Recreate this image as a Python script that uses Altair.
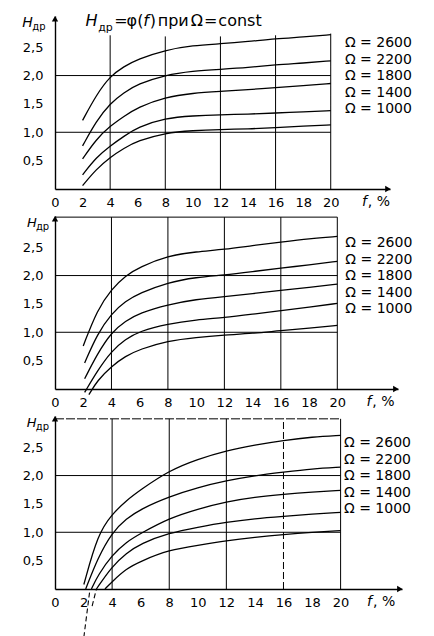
import altair as alt
import pandas as pd

# ---------------- data ----------------
OMEGAS = [2600, 2200, 1800, 1400, 1000]
F_GRID = [3, 4, 5, 6, 8, 10, 12, 14, 16, 18, 20]
X_TICKS = [0, 2, 4, 6, 8, 10, 12, 14, 16, 18, 20]
Y_TICKS = [0.5, 1.0, 1.5, 2.0, 2.5]
GRID_F = [4, 8, 12, 16, 20]
GRID_H = [1.0, 2.0]

# panel 1 (top)
P1_START_F = [2.0, 2.0, 2.0, 2.0, 2.0]
P1_START_H = [1.21, 0.76, 0.53, 0.25, 0.06]
P1_H2600 = [1.66, 1.99, 2.16, 2.29, 2.45, 2.53, 2.56, 2.60, 2.65, 2.68, 2.72]
P1_H2200 = [1.20, 1.51, 1.70, 1.85, 2.01, 2.08, 2.11, 2.14, 2.19, 2.22, 2.26]
P1_H1800 = [0.88, 1.11, 1.28, 1.44, 1.62, 1.69, 1.72, 1.75, 1.79, 1.82, 1.86]
P1_H1400 = [0.56, 0.76, 0.93, 1.09, 1.25, 1.29, 1.31, 1.32, 1.34, 1.36, 1.38]
P1_H1000 = [0.35, 0.56, 0.72, 0.85, 0.99, 1.03, 1.05, 1.06, 1.08, 1.11, 1.13]
P1_GRID_TOP = [2.71, 2.69, 2.69, 2.71, 2.74]

# panel 2 (middle)
P2_START_F = [2.0, 2.1, 2.1, 2.1, 2.4]
P2_START_H = [0.76, 0.46, 0.18, -0.06, -0.10]
P2_H2600 = [1.40, 1.76, 2.00, 2.15, 2.35, 2.42, 2.46, 2.53, 2.59, 2.65, 2.69]
P2_H2200 = [0.97, 1.33, 1.55, 1.69, 1.88, 1.97, 2.01, 2.07, 2.13, 2.19, 2.25]
P2_H1800 = [0.62, 1.00, 1.20, 1.34, 1.49, 1.58, 1.63, 1.68, 1.74, 1.79, 1.85]
P2_H1400 = [0.32, 0.67, 0.88, 1.02, 1.15, 1.22, 1.26, 1.32, 1.38, 1.44, 1.51]
P2_H1000 = [0.15, 0.40, 0.58, 0.70, 0.85, 0.91, 0.95, 0.98, 1.03, 1.07, 1.12]
P2_FRAME = 3.03

# panel 3 (bottom)
P3_START_F = [2.02, 2.15, 2.55, 2.9, 3.5]
P3_START_H = [0.08, 0.0, 0.0, 0.0, 0.0]
P3_H2600 = [0.97, 1.32, 1.56, 1.75, 2.09, 2.29, 2.44, 2.54, 2.62, 2.68, 2.71]
P3_H2200 = [0.55, 1.00, 1.24, 1.41, 1.63, 1.79, 1.91, 2.00, 2.06, 2.12, 2.15]
P3_H1800 = [0.24, 0.60, 0.83, 0.98, 1.25, 1.41, 1.54, 1.62, 1.67, 1.71, 1.74]
P3_H1400 = [None, 0.40, 0.63, 0.80, 0.99, 1.09, 1.18, 1.24, 1.28, 1.32, 1.35]
P3_H1000 = [None, 0.13, 0.36, 0.49, 0.69, 0.77, 0.85, 0.91, 0.96, 1.00, 1.03]
P3_FRAME = 3.0
P3_EXT1_F = [2.45, 2.02]
P3_EXT1_H = [0.0, -0.85]
P3_EXT2_F = [2.9, 2.6]
P3_EXT2_H = [0.0, -0.30]

# ---------------- styling ----------------
FONT = "DejaVu Sans"
XMAX = 24.3
YMAX = 3.05
HEIGHT = 173

X_AXIS = alt.Axis(values=X_TICKS, title=None, ticks=False, tickSize=0, labelPadding=7,
                  grid=False, domainColor="black", domainWidth=1.4, labelFont=FONT,
                  labelFontSize=13, labelColor="black", labelFlush=False, labelOverlap=False)
Y_AXIS = alt.Axis(values=Y_TICKS, title=None, ticks=False, tickSize=0, labelPadding=12,
                  grid=False, domainColor="black", domainWidth=1.4, labelFont=FONT,
                  labelFontSize=13, labelColor="black", labelFlush=False, labelOverlap=False,
                  labelExpr="replace(format(datum.value, '.1f'), '.', ',')")


def curve_frame(start_f, start_h, series):
    rows = []
    for om, f0, h0, hs in zip(OMEGAS, start_f, start_h, series):
        rows.append((om, f0, h0))
        for f, h in zip(F_GRID, hs):
            if h is not None and f > f0:
                rows.append((om, f, h))
    return pd.DataFrame(rows, columns=["omega", "f", "H"])


def panel(width, curves, grid_top=None, frame_top=None, frame_dashed=False, dash16=False,
          legend_f=21.0, fpct_f=22.2, fpct_gap=0.43, hlab_f=-2.0, hsub_f=-1.35,
          hlab_size=13, extensions=None, title=False):
    xs = alt.Scale(domain=[0, XMAX], nice=False, zero=False)
    ys = alt.Scale(domain=[0, YMAX], nice=False, zero=False)

    def X(fld):
        return alt.X(fld, type="quantitative", scale=xs, axis=X_AXIS)

    def Y(fld):
        return alt.Y(fld, type="quantitative", scale=ys, axis=Y_AXIS)

    layers = []
    top = grid_top if grid_top is not None else [frame_top] * len(GRID_F)
    vg = pd.DataFrame({"f": GRID_F, "H": 0.0, "top": top,
                       "dashed": [bool(dash16 and g == 16) for g in GRID_F]})
    layers.append(alt.Chart(vg).mark_rule(color="black", strokeWidth=1).encode(
        x=X("f"), y=Y("H"), y2="top",
        strokeDash=alt.condition("datum.dashed", alt.value([7, 3]), alt.value([1, 0]))))
    hg = pd.DataFrame({"H": GRID_H, "f": 0.0, "f2": 20.0})
    layers.append(alt.Chart(hg).mark_rule(color="black", strokeWidth=1).encode(
        x=X("f"), x2="f2", y=Y("H")))
    if frame_top is not None:
        fr = pd.DataFrame({"H": [frame_top], "f": [0.0], "f2": [20.0]})
        layers.append(alt.Chart(fr).mark_rule(
            color="black", strokeWidth=1, strokeDash=[9, 2] if frame_dashed else [1, 0]
        ).encode(x=X("f"), x2="f2", y=Y("H")))

    layers.append(alt.Chart(curves).mark_line(
        interpolate="basis", color="black", strokeWidth=1.3).encode(
        x=X("f"), y=Y("H"), detail="omega:N"))

    if extensions is not None:
        layers.append(alt.Chart(extensions).mark_line(
            color="black", strokeWidth=1.1, strokeDash=[5, 3]).encode(
            x=X("f"), y=Y("H"), detail="k:N"))

    leg = pd.DataFrame({"t": [f"Ω = {o}" for o in OMEGAS],
                        "H": [2.5 - 0.29 * i for i in range(len(OMEGAS))],
                        "f": legend_f})
    layers.append(alt.Chart(leg).mark_text(
        align="left", baseline="alphabetic", font=FONT, fontSize=14, color="black").encode(
        x=X("f"), y=Y("H"), text="t:N"))

    def txt(t, f, h, size, italic=False):
        d = pd.DataFrame({"t": [t], "f": [f], "H": [h]})
        kw = dict(align="left", baseline="alphabetic", font=FONT, fontSize=size, color="black")
        if italic:
            kw["fontStyle"] = "italic"
        return alt.Chart(d).mark_text(**kw).encode(x=X("f"), y=Y("H"), text="t:N")

    # y axis name
    layers.append(txt("H", hlab_f, 2.86, hlab_size, italic=True))
    layers.append(txt("др", hsub_f, 2.80, 10))
    # x axis name
    layers.append(txt("f", fpct_f, -0.30, 14, italic=True))
    layers.append(txt(", %", fpct_f + fpct_gap, -0.30, 14))

    if title:
        base = 2.88
        for t, f, size, it, h in [("H", 2.22, 16, True, base), ("др", 3.13, 11, False, base - 0.1),
                                  ("=", 4.3, 16, False, base), ("φ", 5.18, 16, False, base),
                                  ("(", 5.96, 16, False, base), ("f", 6.4, 16, True, base),
                                  (")", 6.87, 16, False, base), ("при", 7.45, 16, False, base),
                                  ("Ω", 9.85, 16, False, base), ("=", 10.8, 16, False, base),
                                  ("const", 11.85, 16, False, base)]:
            layers.append(txt(t, f, h, size, italic=it))

    arr_x = pd.DataFrame({"f": [XMAX - 0.15], "H": [0.0]})
    layers.append(alt.Chart(arr_x).mark_point(
        shape="triangle-right", filled=True, size=40, color="black", opacity=1).encode(
        x=X("f"), y=Y("H")))
    arr_y = pd.DataFrame({"f": [0.0], "H": [YMAX - 0.05]})
    layers.append(alt.Chart(arr_y).mark_point(
        shape="triangle-up", filled=True, size=40, color="black", opacity=1).encode(
        x=X("f"), y=Y("H")))

    return alt.layer(*layers).properties(width=width, height=HEIGHT)


c1 = curve_frame(P1_START_F, P1_START_H, [P1_H2600, P1_H2200, P1_H1800, P1_H1400, P1_H1000])
c2 = curve_frame(P2_START_F, P2_START_H, [P2_H2600, P2_H2200, P2_H1800, P2_H1400, P2_H1000])
c3 = curve_frame(P3_START_F, P3_START_H, [P3_H2600, P3_H2200, P3_H1800, P3_H1400, P3_H1000])
ext3 = pd.DataFrame({"k": [1, 1, 2, 2], "f": P3_EXT1_F + P3_EXT2_F, "H": P3_EXT1_H + P3_EXT2_H})

p1 = panel(335, c1, grid_top=P1_GRID_TOP, legend_f=21.03, fpct_f=22.26, fpct_gap=0.43,
           hlab_f=-2.38, hsub_f=-1.65, hlab_size=14, title=True)
p2 = panel(343, c2, frame_top=P2_FRAME, legend_f=20.57, fpct_f=22.06, fpct_gap=0.42,
           hlab_f=-1.99, hsub_f=-1.35)
p3 = panel(347, c3, frame_top=P3_FRAME, frame_dashed=True, dash16=True, legend_f=20.24,
           fpct_f=21.85, fpct_gap=0.42, hlab_f=-1.98, hsub_f=-1.35, extensions=ext3)

chart = alt.vconcat(p1, p2, p3, spacing=27, bounds="flush").properties(
    padding={"left": 14, "top": 4, "right": 4, "bottom": 0}
).configure_view(stroke=None)

chart.save("out.html", embed_options={"renderer": "svg", "actions": False})
